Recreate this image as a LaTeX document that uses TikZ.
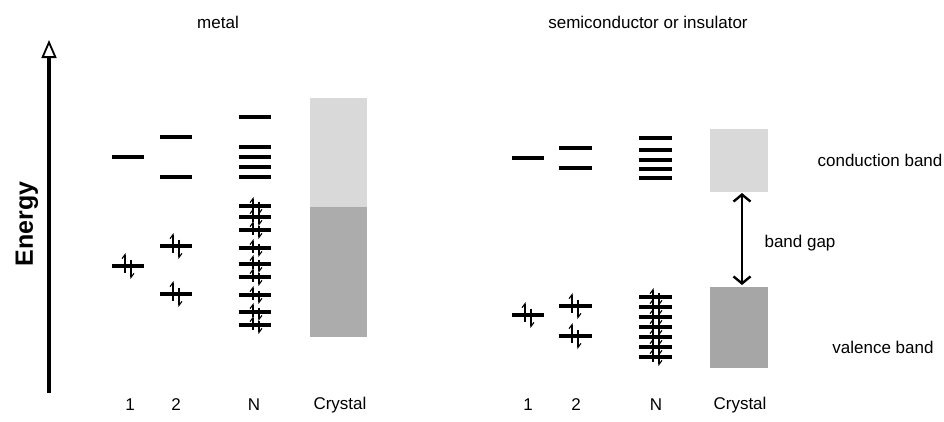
\documentclass[tikz,border=0pt]{standalone}
\usepackage{fontspec}
\setmainfont{Liberation Sans}
\usetikzlibrary{arrows.meta}

\tikzset{
  level/.style={line width=3.2pt},
  spin/.style={line width=1.1pt, -{Straight Barb[left,length=4pt,width=6pt]}},
  lbl/.style={inner sep=0pt, font=\fontsize{17}{20}\selectfont},
  energy/.style={line width=3.5pt, -{Triangle[open,length=18pt,width=15pt,line width=1.8pt]}},
  gap/.style={line width=2.4pt, {Straight Barb[length=7pt,width=17pt]}-{Straight Barb[length=7pt,width=17pt]}}
}

% electron pair (up and down) on a level at x-centre #1, height #2, half length #3
\newcommand{\epair}[3]{%
  \draw[spin] (#1-3,#2+#3*0.5) -- (#1-3,#2-#3);
  \draw[spin] (#1+3,#2-#3*0.5) -- (#1+3,#2+#3);
}

\begin{document}
\begin{tikzpicture}[x=1pt,y=-1pt]

    \useasboundingbox (0,0) rectangle (944,421);

    % 1. Energy axis
    \coordinate (Ebot) at (49,393);
    \coordinate (Etop) at (49,40);
    \draw[energy] (Ebot) -- (Etop);
    \node[font=\fontsize{25}{30}\selectfont\bfseries, rotate=90, inner sep=0pt] (energylbl) at (27,224) {Energy};

    % 2. Titles
    \node[lbl] (metal) at (218,22) {metal};
    \node[lbl] (semi) at (648,22) {semiconductor or insulator};

    % 3. Metal: levels for 1, 2, N atoms
    \draw[level] (112,157) -- (144,157);
    \draw[level] (112,266) -- (144,266);
    \epair{128}{266}{13}

    \foreach \y in {137,177,246,294}
        \draw[level] (160,\y) -- (192,\y);
    \foreach \y in {246,294} {
        \epair{176}{\y}{13}
    }

    \foreach \y in {117,147,157,167,177,206,217,230,248,264,277,295,312,325}
        \draw[level] (239,\y) -- (271,\y);
    \foreach \y in {206,217,230,248,264,277,295,312,325} {
        \epair{256}{\y}{9}
    }

    % 4. Metal: crystal band (half filled)
    \fill[gray!30] (310,98) rectangle (367,207);
    \fill[gray!65] (310,207) rectangle (367,337);

    % 5. Semiconductor: levels for 1, 2, N atoms
    \draw[level] (512,158) -- (544,158);
    \draw[level] (512,315) -- (544,315);
    \epair{528}{315}{13}

    \foreach \y in {148,168,306,336}
        \draw[level] (559,\y) -- (592,\y);
    \foreach \y in {306,336} {
        \epair{575}{\y}{13}
    }

    \foreach \y in {138,150,160,169,178,297,307,317,327,337,347,357}
        \draw[level] (639,\y) -- (672,\y);
    \foreach \y in {297,307,317,327,337,347,357} {
        \epair{656}{\y}{9}
    }

    % 6. Semiconductor: conduction and valence bands with gap
    \fill[gray!30] (710,129) rectangle (768,192);
    \fill[gray!70] (710,287) rectangle (768,368);
    \coordinate (cbB) at (742,193);
    \coordinate (vbT) at (742,285);
    \draw[gap] (cbB) -- (vbT);

    % 7. Band labels
    \node[lbl] (cond) at (880,160) {conduction band};
    \node[lbl] (bgap) at (800,243) {band gap};
    \node[lbl] (val) at (883,347) {valence band};

    % 8. Column labels
    \foreach \nm/\x/\t in {a/130/1, b/176/2, c/254/N, d/340/Crystal,
                           e/528/1, f/576/2, g/656/N, h/740/Crystal} {
        \node[lbl] (col\nm) at (\x,405) {\t};
    }

\end{tikzpicture}
\end{document}
